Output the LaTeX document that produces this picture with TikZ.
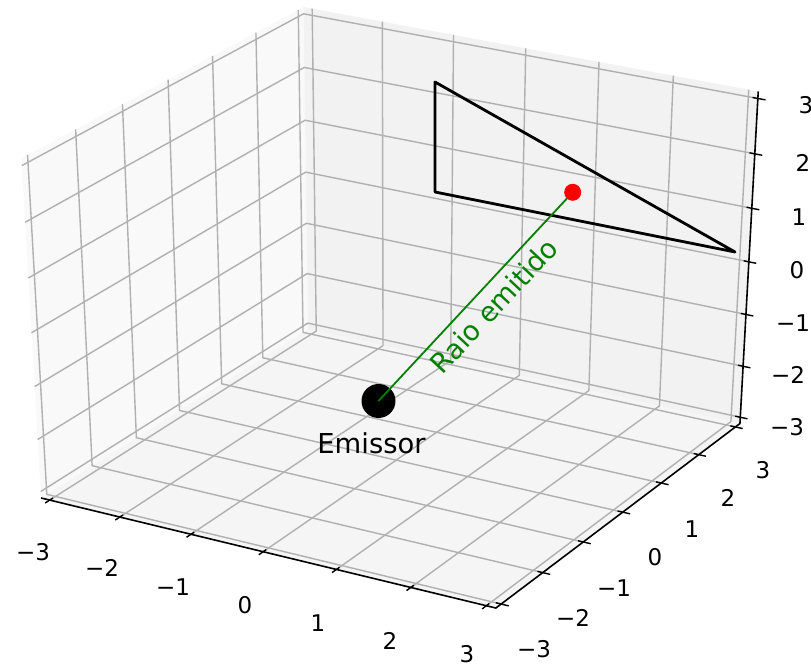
\documentclass[tikz,border=0pt]{standalone}
\usepackage{fontspec}
\setmainfont{DejaVu Sans}
\usetikzlibrary{positioning}
\definecolor{gridgray}{HTML}{B0B0B0}
\definecolor{panex}{HTML}{F9F9F9}
\definecolor{paney}{HTML}{F2F2F2}
\definecolor{panez}{HTML}{F5F5F5}
\definecolor{raygreen}{HTML}{008000}
\definecolor{hitred}{HTML}{FF0000}

% data (x,y,z) -> image pixels (elev 30, azim -60, mild perspective)
\def\plotproj#1,#2,#3\relax{%
  \pgfmathsetmacro\plotden{1-0.0169*(0.433*(#1)-0.75*(#2)+0.5*(#3))}%
  \pgfmathsetmacro\plotpx{396.2+84*(0.866*(#1)+0.5*(#2))/\plotden}%
  \pgfmathsetmacro\plotpy{296.7-62*(-0.25*(#1)+0.433*(#2)+0.866*(#3))/\plotden}%
  \pgfpointxy{\plotpx}{\plotpy}}
\tikzdeclarecoordinatesystem{plotbox}{\plotproj#1\relax}
\def\lo{-3.125}
\def\hi{3.125}

\tikzset{
  pane/.style={fill=#1, draw=none},
  gridline/.style={draw=gridgray, line width=0.7pt, line join=round},
  axisline/.style={draw=black, line width=0.8pt},
  tickmark/.style={draw=black, line width=0.7pt},
  ticklabel/.style={font=\fontsize{11.5}{13}\selectfont, inner sep=0pt},
  tribox/.style={draw=black, line width=1.4pt, line join=round},
  rayline/.style={draw=raygreen, line width=0.9pt},
  emitdot/.style={circle, fill=black, minimum size=17pt, inner sep=0pt},
  hitdot/.style={circle, fill=hitred, minimum size=8.5pt, inner sep=0pt},
  plotlabel/.style={font=\fontsize{13.7}{16}\selectfont, inner sep=0pt, text=#1},
  plotlabel/.default=black,
}

\begin{document}
\begin{tikzpicture}[x=0.5pt, y=-0.5pt]
\useasboundingbox (0,0) rectangle (811,667);

% Panes
\path[pane=panex] (plotbox cs:\lo,\lo,\lo) -- (plotbox cs:\lo,\hi,\lo)
  -- (plotbox cs:\lo,\hi,\hi) -- (plotbox cs:\lo,\lo,\hi) -- cycle;
\path[pane=paney] (plotbox cs:\lo,\hi,\lo) -- (plotbox cs:\hi,\hi,\lo)
  -- (plotbox cs:\hi,\hi,\hi) -- (plotbox cs:\lo,\hi,\hi) -- cycle;
\path[pane=panez] (plotbox cs:\lo,\lo,\lo) -- (plotbox cs:\hi,\lo,\lo)
  -- (plotbox cs:\hi,\hi,\lo) -- (plotbox cs:\lo,\hi,\lo) -- cycle;

% Grid
\foreach \t in {-3,...,3}{
  \draw[gridline] (plotbox cs:\t,\lo,\lo) -- (plotbox cs:\t,\hi,\lo) -- (plotbox cs:\t,\hi,\hi);
  \draw[gridline] (plotbox cs:\hi,\t,\lo) -- (plotbox cs:\lo,\t,\lo) -- (plotbox cs:\lo,\t,\hi);
  \draw[gridline] (plotbox cs:\lo,\lo,\t) -- (plotbox cs:\lo,\hi,\t) -- (plotbox cs:\hi,\hi,\t);
}

% Axes and ticks
\draw[axisline] (plotbox cs:\lo,\lo,\lo) -- (plotbox cs:\hi,\lo,\lo)
  -- (plotbox cs:\hi,\hi,\lo) -- (plotbox cs:\hi,\hi,\hi);
\foreach \t in {-3,...,3}{
  \draw[tickmark] (plotbox cs:\t,\lo-0.1,\lo) -- (plotbox cs:\t,\lo+0.07,\lo);
  \draw[tickmark] (plotbox cs:\hi-0.07,\t,\lo) -- (plotbox cs:\hi+0.1,\t,\lo);
  \draw[tickmark] (plotbox cs:\hi-0.07,\hi,\t) -- (plotbox cs:\hi+0.1,\hi,\t);
}
\foreach \v/\px/\py [count=\k] in {−3/33/552, −2/102/568, −1/173/587, 0/245/605,
    1/318/623, 2/390/641, 3/467/654}
  \node[ticklabel] (xtick\k) at (\px,\py) {\v};
\foreach \v/\px/\py [count=\k] in {−3/534/649, −2/573/618, −1/614/588, 0/655/557,
    1/692/529, 2/728/498, 3/763/470}
  \node[ticklabel] (ytick\k) at (\px,\py) {\v};
\foreach \v/\px/\py [count=\k] in {−3/787/427, −2/788/375, −1/793/323, 0/797/270,
    1/799/217, 2/803/163, 3/806/105}
  \node[ticklabel] (ztick\k) at (\px,\py) {\v};

% Triangle
\draw[tribox] (435,82) -- (435,192) -- (735,252) -- cycle;

% Emitter, ray and hit point
\node[emitdot] (emit) at (378.5,401) {};
\node[plotlabel, below=7pt of emit, xshift=-3.5pt] (emitname) {Emissor};
\coordinate (hitpt) at (572.7,192.3);
\draw[rayline] (emit.center) -- (hitpt)
  node[pos=0.52, sloped, below, plotlabel=raygreen, inner sep=4pt] (raylabel) {Raio emitido};
\node[hitdot] (hit) at (hitpt) {};

\end{tikzpicture}
\end{document}
